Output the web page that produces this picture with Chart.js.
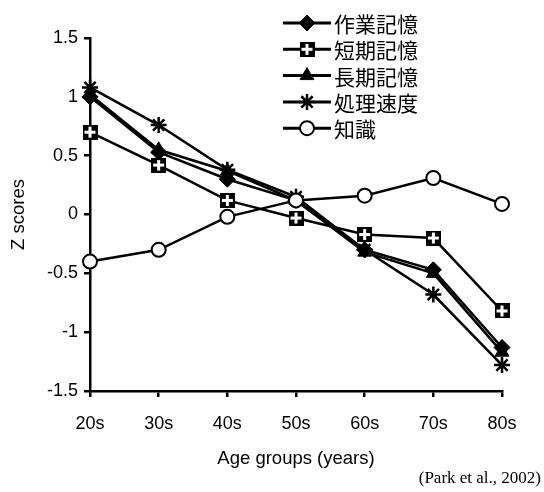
<!DOCTYPE html>
<html>
<head>
<meta charset="utf-8">
<script src="https://cdn.jsdelivr.net/npm/chart.js@4/dist/chart.umd.min.js"></script>
<style>
  html, body { margin: 0; padding: 0; background: #fff; }
  #wrap { width: 544px; height: 492px; }
</style>
</head>
<body>
<div id="wrap"><canvas id="myChart" width="544" height="492"></canvas></div>
<script>
const ageGroups = ['20s', '30s', '40s', '50s', '60s', '70s', '80s'];
const workingMemory = [1.0, 0.53, 0.3, 0.12, -0.3, -0.47, -1.13];
const shortTermMemory = [0.7, 0.42, 0.12, -0.03, -0.17, -0.2, -0.82];
const longTermMemory = [1.02, 0.55, 0.37, 0.12, -0.32, -0.5, -1.17];
const processingSpeed = [1.08, 0.76, 0.38, 0.15, -0.3, -0.68, -1.28];
const knowledge = [-0.4, -0.3, -0.02, 0.12, 0.16, 0.31, 0.09];
const seriesNames = ['作業記憶', '短期記憶', '長期記憶', '処理速度', '知識'];
const yTicks = [-1.5, -1, -0.5, 0, 0.5, 1, 1.5];
const yTickLabels = ['-1.5', '-1', '-0.5', '0', '0.5', '1', '1.5'];

// black square with a white cross, for the short-term series
const crossSquare = document.createElement('canvas');
crossSquare.width = 15;
crossSquare.height = 15;
(function () {
    const c = crossSquare.getContext('2d');
    c.fillStyle = '#000';
    c.fillRect(0, 0, 15, 15);
    c.fillStyle = '#fff';
    c.fillRect(6, 2, 3, 11);
    c.fillRect(2, 6, 11, 3);
})();

Chart.defaults.font.family = '"Liberation Sans", Arial, sans-serif';
Chart.defaults.color = '#000';

const base = {
    borderColor: '#000',
    borderWidth: 2.5,
    pointBorderColor: '#000',
    pointBackgroundColor: '#000',
    pointBorderWidth: 1,
    pointRadius: 7,
    clip: false,
    tension: 0
};

const cornerLegend = {
    id: 'cornerLegend',
    afterDraw(chart) {
        const ctx = chart.ctx;
        chart.data.datasets.forEach((ds, i) => {
            const y = 23 + i * 26.3;
            ctx.save();
            ctx.strokeStyle = '#000';
            ctx.lineWidth = 3;
            ctx.beginPath();
            ctx.moveTo(283, y);
            ctx.lineTo(331, y);
            ctx.stroke();
            ctx.fillStyle = ds.pointBackgroundColor;
            ctx.strokeStyle = ds.pointBorderColor;
            ctx.lineWidth = ds.pointBorderWidth;
            Chart.helpers.drawPoint(ctx, {
                pointStyle: ds.pointStyle,
                radius: ds.pointRadius,
                borderWidth: ds.pointBorderWidth,
                rotation: 0
            }, 307, y);
            ctx.fillStyle = '#000';
            ctx.font = '21px "Noto Sans CJK JP", sans-serif';
            ctx.textAlign = 'left';
            ctx.textBaseline = 'middle';
            ctx.fillText(ds.label, 334, y + 1);
            ctx.restore();
        });
        ctx.save();
        ctx.fillStyle = '#000';
        ctx.font = '17px "Liberation Serif", "Times New Roman", serif';
        ctx.textAlign = 'right';
        ctx.textBaseline = 'middle';
        ctx.fillText('(Park et al., 2002)', 541, 479);
        ctx.restore();
    }
};

new Chart(document.getElementById('myChart'), {
    type: 'line',
    data: {
        labels: ageGroups,
        datasets: [
            { ...base, label: seriesNames[0], data: workingMemory, pointStyle: 'rectRot', pointRadius: 8 },
            { ...base, label: seriesNames[1], data: shortTermMemory, pointStyle: crossSquare },
            { ...base, label: seriesNames[2], data: longTermMemory, pointStyle: 'triangle', pointRadius: 8 },
            { ...base, label: seriesNames[3], data: processingSpeed, pointStyle: 'star', pointBorderWidth: 2.5, pointRadius: 8 },
            { ...base, label: seriesNames[4], data: knowledge, pointStyle: 'circle', pointBackgroundColor: '#fff', pointBorderWidth: 2, order: -1 }
        ]
    },
    options: {
        responsive: false,
        animation: false,
        layout: { padding: { top: 38, right: 42, left: 0, bottom: 0 } },
        plugins: {
            legend: { display: false },
            tooltip: { enabled: false }
        },
        scales: {
            x: {
                offset: false,
                grid: { display: true, drawOnChartArea: false, drawTicks: true, tickLength: 6, color: '#000', lineWidth: 2.5 },
                border: { display: true, color: '#000', width: 2.5 },
                ticks: { font: { size: 18 }, padding: 16, maxRotation: 0 },
                title: { display: true, text: 'Age groups (years)', font: { size: 18.5 }, padding: { top: 4, bottom: 22 } },
                afterFit(scale) { scale.height = 101; }
            },
            y: {
                min: -1.5,
                max: 1.5,
                afterBuildTicks(scale) { scale.ticks = yTicks.map(v => ({ value: v })); },
                grid: { display: true, drawOnChartArea: false, drawTicks: true, tickLength: 6, color: '#000', lineWidth: 2.5 },
                border: { display: true, color: '#000', width: 2.5 },
                ticks: {
                    font: { size: 18 },
                    padding: 6,
                    callback: (v) => yTickLabels[yTicks.indexOf(v)]
                },
                title: { display: true, text: 'Z scores', font: { size: 18.5 }, padding: { top: 8, bottom: 0 } },
                afterFit(scale) { scale.width = 90; }
            }
        }
    },
    plugins: [cornerLegend]
});
</script>
</body>
</html>
